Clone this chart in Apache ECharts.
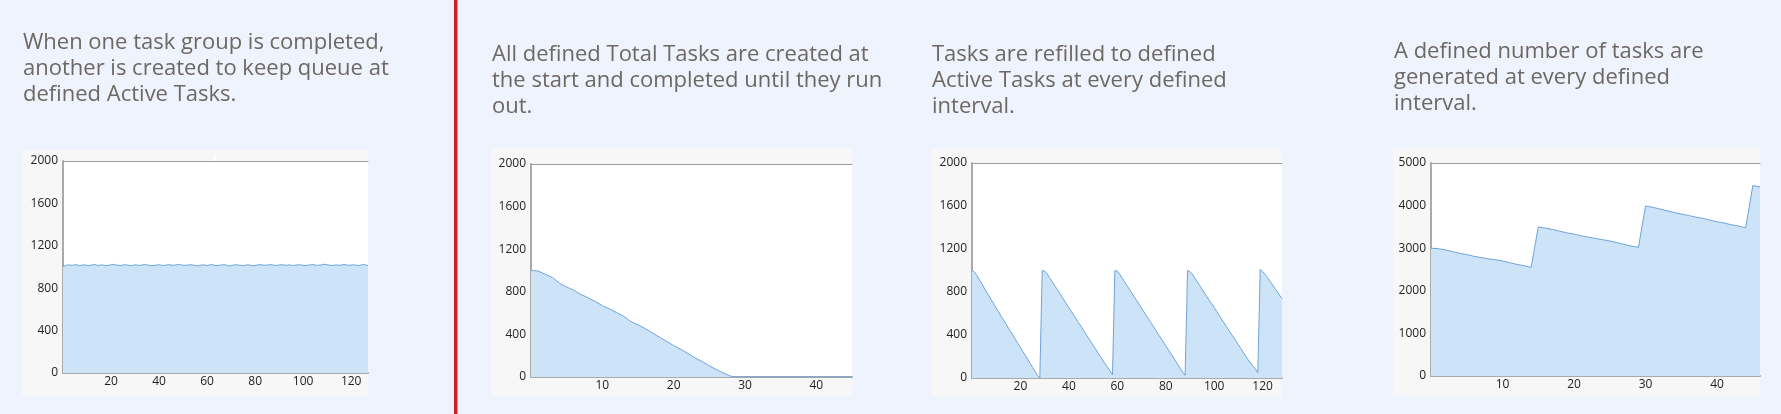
<!DOCTYPE html>
<html>
<head>
<meta charset="utf-8">
<script src="https://cdn.jsdelivr.net/npm/echarts@6/dist/echarts.min.js"></script>
<style>
html,body{margin:0;padding:0;background:#eef3fd;}
#c{width:1781px;height:414px;}
</style>
</head>
<body>
<div id="c"></div>
<script>
// ---- Titles ----
const titles = [
  "When one task group is completed,\nanother is created to keep queue at\ndefined Active Tasks.",
  "All defined Total Tasks are created at\nthe start and completed until they run\nout.",
  "Tasks are refilled to defined\nActive Tasks at every defined\ninterval.",
  "A defined number of tasks are\ngenerated at every defined\ninterval."
];

// ---- Panel 1: constant queue (x = 0..127) ----
const steadyValues = [
1005,1012,1020,1018,1015,1022,1019,1014,1017,1021,1016,1013,1019,1024,1018,1015,
1020,1017,1012,1016,1021,1025,1019,1016,1014,1018,1022,1017,1013,1016,1020,1018,
1015,1019,1023,1020,1016,1012,1015,1019,1021,1017,1014,1018,1022,1019,1016,1020,
1024,1021,1017,1015,1018,1022,1019,1014,1011,1016,1020,1018,1015,1019,1023,1017,
1013,1016,1020,1022,1018,1009,1013,1018,1021,1019,1016,1014,1018,1020,1017,1012,
1015,1019,1022,1020,1016,1018,1023,1021,1017,1015,1019,1022,1018,1016,1020,1017,
1014,1018,1021,1019,1016,1013,1017,1020,1023,1019,1015,1018,1022,1026,1021,1017,
1014,1018,1020,1016,1019,1023,1020,1016,1018,1021,1017,1013,1018,1024,1019,1014
];

// ---- Panel 2: all created at start (x = 0..45) ----
const drainValues = [
1000,995,965,935,880,845,815,775,745,710,670,640,605,570,520,490,
455,415,375,335,295,260,220,180,145,105,70,35,8,0,0,0,
0,0,0,0,0,0,0,0,0,0,0,0,0,0
];

// ---- Panel 3: refilled at every interval (x = 0..128) ----
const refillValues = [
1000,985,955,915,880,840,800,765,725,690,650,615,575,540,505,465,
430,395,355,320,285,245,210,175,135,100,65,25,0,
1000,995,970,935,900,865,830,795,760,725,690,655,620,585,550,515,
480,445,410,375,340,305,270,235,200,165,130,100,65,30,
1000,995,965,930,895,860,825,790,755,720,685,650,615,580,545,510,
475,440,405,370,335,300,265,230,195,160,125,90,55,25,
1000,990,965,930,895,860,825,790,755,720,690,655,620,585,550,515,
480,445,410,380,345,310,275,240,205,170,140,110,85,50,
1010,990,965,935,900,870,835,805,770,740
];

// ---- Panel 4: fixed number generated every interval (x = 0..46) ----
const generatedValues = [
3000,2990,2960,2920,2880,2850,2810,2780,2750,2730,2700,2660,2620,2590,2550,
3500,3470,3440,3400,3360,3330,3290,3260,3230,3200,3170,3130,3090,3050,3020,
3990,3960,3920,3880,3840,3800,3770,3730,3700,3660,3620,3590,3550,3520,3480,
4470,4440
];

// axis settings per panel
const xMax = [127, 45, 128, 46];
const xInterval = [20, 10, 20, 10];
const yMax = [2000, 2000, 2000, 5000];
const yInterval = [400, 400, 400, 1000];

const seriesValues = [steadyValues, drainValues, refillValues, generatedValues];

// layout
const grids = [
  {left: 63, top: 161, width: 305, height: 212},
  {left: 531, top: 164, width: 321, height: 213},
  {left: 972, top: 163, width: 310, height: 215},
  {left: 1431, top: 163, width: 329, height: 213}
];
const boxes = [
  {x: 22, y: 150, width: 346, height: 246},
  {x: 491, y: 148, width: 361, height: 248},
  {x: 932, y: 149, width: 350, height: 248},
  {x: 1393, y: 147, width: 367, height: 250}
];
const titlePos = [[23, 30], [492, 41.5], [932, 41.5], [1394, 38.3]];

const axisGray = '#aaaaaa';
const labelFont = {fontFamily: 'Open Sans', fontSize: 12, color: '#222222'};
const plain = v => String(v);

const xAxes = [], yAxes = [], series = [];
for (let i = 0; i < 4; i++) {
  xAxes.push({
    type: 'value', gridIndex: i, min: 0, max: xMax[i], interval: xInterval[i],
    axisLine: {show: true, onZero: false, lineStyle: {color: axisGray, width: 2}},
    axisTick: {show: false}, splitLine: {show: false},
    axisLabel: Object.assign({margin: 3, showMinLabel: false, showMaxLabel: false, formatter: plain}, labelFont)
  });
  yAxes.push({
    type: 'value', gridIndex: i, min: 0, max: yMax[i], interval: yInterval[i],
    axisLine: {show: true, lineStyle: {color: axisGray, width: 2}},
    axisTick: {show: false}, splitLine: {show: false},
    axisLabel: Object.assign({margin: 5, formatter: plain}, labelFont)
  });
  series.push({
    type: 'line', xAxisIndex: i, yAxisIndex: i,
    data: seriesValues[i].map((v, k) => [k, v]),
    showSymbol: false, symbol: 'none', smooth: false,
    lineStyle: {color: '#6fa4da', width: 1},
    areaStyle: {color: '#cde3f7', opacity: 1},
    silent: true, animation: false
  });
}
// top border axes
for (let i = 0; i < 4; i++) {
  xAxes.push({
    type: 'value', gridIndex: i, position: 'top', min: 0, max: xMax[i],
    axisLine: {show: true, onZero: false, lineStyle: {color: '#9d9d9d', width: 1}},
    axisTick: {show: false}, splitLine: {show: false}, axisLabel: {show: false}
  });
}

const graphics = [];
boxes.forEach(b => graphics.push({
  type: 'rect', z: -10, silent: true,
  shape: {x: b.x, y: b.y, width: b.width, height: b.height},
  style: {fill: '#f7f7f7'}
}));
titles.forEach((t, i) => graphics.push({
  type: 'text', silent: true, x: titlePos[i][0], y: titlePos[i][1],
  style: {text: t, font: '22px "Open Sans"', fill: '#6e6863', lineHeight: 26,
          textVerticalAlign: 'top', verticalAlign: 'top'}
}));
// red divider
graphics.push({type: 'rect', silent: true, shape: {x: 454, y: 0, width: 3.5, height: 414},
  style: {fill: '#d11f26'}});
// small white notch on panel 1 top border
graphics.push({type: 'rect', silent: true, z: 100, shape: {x: 214, y: 154, width: 2, height: 7},
  style: {fill: '#ffffff'}});

const chart = echarts.init(document.getElementById('c'), null, {renderer: 'canvas'});
chart.setOption({
  backgroundColor: '#eef3fd',
  animation: false,
  grid: grids.map(g => Object.assign({show: true, backgroundColor: '#ffffff', borderWidth: 0, containLabel: false}, g)),
  xAxis: xAxes,
  yAxis: yAxes,
  series: series,
  graphic: graphics
});
</script>
</body>
</html>
